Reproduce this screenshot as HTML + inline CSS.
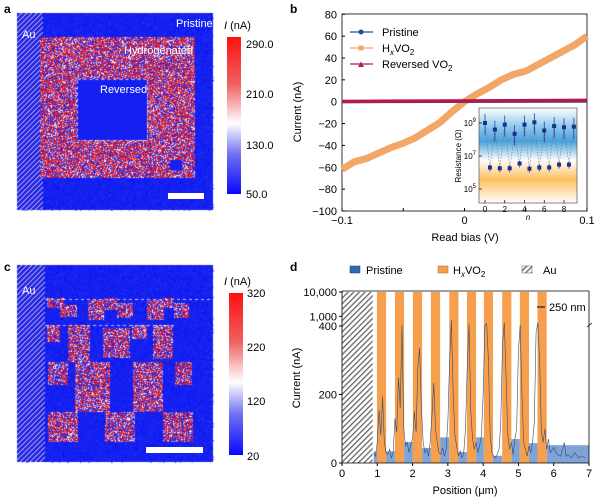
<!DOCTYPE html>
<html><head><meta charset="utf-8"><style>
html,body{margin:0;padding:0;background:#fff;width:600px;height:500px;overflow:hidden;font-family:"Liberation Sans",sans-serif;}
#root{position:relative;width:600px;height:500px;}
canvas{position:absolute;}
svg{position:absolute;left:0;top:0;}
</style></head><body><div id="root">
<canvas id="mapA" width="600" height="500" style="left:0;top:0"></canvas>
<svg id="sv" width="600" height="500">
<defs>
<linearGradient id="cb" x1="0" y1="0" x2="0" y2="1"><stop offset="0" stop-color="#ff1010"/><stop offset="0.3" stop-color="#f06060"/><stop offset="0.55" stop-color="#ffffff"/><stop offset="0.75" stop-color="#7070f0"/><stop offset="1" stop-color="#0808ff"/></linearGradient>
<linearGradient id="ins" x1="0" y1="0" x2="0" y2="1"><stop offset="0" stop-color="#fff"/><stop offset="0.2" stop-color="#8cc6ec"/><stop offset="0.35" stop-color="#4aa0dc"/><stop offset="0.55" stop-color="#ffffff"/><stop offset="0.75" stop-color="#fbc060"/><stop offset="1" stop-color="#fff"/></linearGradient>
<pattern id="hatD" width="4" height="4" patternUnits="userSpaceOnUse" patternTransform="rotate(45)"><rect width="4" height="4" fill="#fff"/><rect width="1.3" height="4" fill="#666"/></pattern>
</defs>
<g font-weight="bold" font-size="12">
<text x="4" y="13">a</text>
<text x="290" y="13">b</text>
<text x="4" y="271">c</text>
<text x="290" y="271">d</text>
</g>
<g fill="#fff" font-size="11">
<text x="22" y="38">Au</text>
<text x="176" y="27">Pristine</text>
<text x="124" y="54">Hydrogenated</text>
<text x="100" y="93">Reversed</text>
<text x="22" y="294">Au</text>
</g>
<rect x="168" y="193" width="36" height="6" fill="#fff"/>
<rect x="146" y="447" width="57" height="6" fill="#fff"/>
<g>
<text x="224" y="29" font-size="11"><tspan font-style="italic">I</tspan> (nA)</text>
<rect x="227" y="37" width="14" height="157" fill="url(#cb)"/>
<g font-size="11"><text x="246" y="48">290.0</text><text x="246" y="98">210.0</text><text x="246" y="149">130.0</text><text x="246" y="198">50.0</text></g>
</g>
<g>
<text x="224" y="285" font-size="11"><tspan font-style="italic">I</tspan> (nA)</text>
<rect x="229" y="293" width="14" height="162" fill="url(#cb)"/>
<g font-size="11"><text x="247" y="297">320</text><text x="247" y="351">220</text><text x="247" y="405">120</text><text x="247" y="460">20</text></g>
</g>
<g id="pb"></g>
<g id="pd"></g>
</svg>
</div>
<script>
// ---------- Panel b data ----------
const bX=[-0.1,-0.09,-0.08,-0.07,-0.06,-0.05,-0.04,-0.03,-0.02,-0.01,0,0.01,0.02,0.03,0.04,0.05,0.06,0.07,0.08,0.09,0.1];
const bHx=[-62,-55,-52,-47,-42,-38,-33,-26,-19,-9,0,7,13,20,25,28,34,40,46,52,60];
const bLineX=[-0.1,0.1];
const bPristine=[0,0.4];
const bReversed=[0.2,1.2];
const bYTicks=[80,60,40,20,0,-20,-40,-60,-80,-100];
const bXTicks=[-0.1,0,0.1];
const insHighN=[0,1,2,3,4,5,6,7,8,9];
const insHigh=[1e9,4e8,8e8,2.2e8,8e8,1.1e9,3.5e8,6.5e8,5.5e8,6e8];
const insLowN=[0.5,1.5,2.5,3.5,4.5,5.5,6.5,7.5,8.5];
const insLow=[2e6,1.8e6,1.8e6,3.5e6,1.7e6,2e6,2e6,3e6,3e6];
// ---------- Panel d data ----------
const dHxStarts=[0.99,1.5,2.01,2.52,3.04,3.54,4.02,4.54,5.04,5.54];
const dHxWidth=0.26;
const dPrisStart=[0.9,1.25,1.76,2.27,2.78,3.3,3.8,4.28,4.8,5.3,5.8];
const dPrisEnd=[1.0,1.5,2.01,2.52,3.04,3.54,4.02,4.54,5.04,5.54,7.0];
const dPrisH=[34,34,61,44,75,32,75,21,70,58,52];
const dPos=[0.9,0.95,1.0,1.05,1.1,1.15,1.2,1.25,1.3,1.35,1.4,1.45,1.5,1.55,1.6,1.65,1.7,1.75,1.8,1.85,1.9,1.95,2.0,2.05,2.1,2.15,2.2,2.25,2.3,2.35,2.4,2.45,2.5,2.55,2.6,2.65,2.7,2.75,2.8,2.85,2.9,2.95,3.0,3.05,3.1,3.15,3.2,3.25,3.3,3.35,3.4,3.45,3.5,3.55,3.6,3.65,3.7,3.75,3.8,3.85,3.9,3.95,4.0,4.05,4.1,4.15,4.2,4.25,4.3,4.35,4.4,4.45,4.5,4.55,4.6,4.65,4.7,4.75,4.8,4.85,4.9,4.95,5.0,5.05,5.1,5.15,5.2,5.25,5.3,5.35,5.4,5.45,5.5,5.55,5.6,5.65,5.7,5.75,5.8,5.85,5.9,6.0,6.1,6.2,6.3,6.35,6.4,6.5,6.6,6.7,6.8,6.9];
const dCur=[30,20,60,155,80,195,60,30,25,40,15,30,130,90,250,160,450,100,50,60,30,55,70,150,90,280,336,160,60,30,40,20,60,140,234,100,60,30,25,45,20,40,120,300,700,200,80,50,20,35,15,30,100,280,500,150,70,40,60,30,50,80,200,420,500,300,80,30,20,15,25,40,120,350,550,250,80,40,60,25,70,100,330,450,200,60,40,20,50,30,60,120,380,550,300,90,60,100,40,70,30,45,25,20,60,20,25,15,30,15,20,15];
const dYTicks=[0,200,400,1000,10000];
const dYTickLabels=["0","200","400","1,000","10,000"];
const dXTicks=[0,1,2,3,4,5,6,7];

const NS="http://www.w3.org/2000/svg";
function mk(parent,tag,attrs,text){const e=document.createElementNS(NS,tag);for(const k in attrs)e.setAttribute(k,attrs[k]);if(text!==undefined)e.textContent=text;parent.appendChild(e);return e;}

// ---------- Panel b ----------
const pb=document.getElementById('pb');
const bx=v=>342+(v+0.1)/0.2*245;
const by=v=>101.7-v*(211-101.7)/100;
let e;
e=mk(pb,'rect',{x:342,y:14,width:245,height:197,fill:'none',stroke:'#000','stroke-width':0.8});

bYTicks.forEach(t=>{mk(pb,'line',{x1:342,x2:345,y1:by(t),y2:by(t),stroke:'#000'});
 e=mk(pb,'text',{x:337,y:by(t)+4,'text-anchor':'end','font-size':11},t<0?'\u2212'+(-t):String(t));
 });
[-0.1,-0.05,0,0.05,0.1].forEach(t=>mk(pb,'line',{x1:bx(t),x2:bx(t),y1:211,y2:208,stroke:'#000'}));
bXTicks.forEach(t=>{e=mk(pb,'text',{x:bx(t),y:224,'text-anchor':'middle','font-size':11},t<0?'\u2212'+(-t):String(t));
 });
e=mk(pb,'text',{x:465,y:241,'text-anchor':'middle','font-size':11},'Read bias (V)');
e=mk(pb,'text',{x:0,y:0,'text-anchor':'middle','font-size':11,transform:'translate(301,112) rotate(-90)'},'Current (nA)');
e=mk(pb,'polyline',{points:bX.map((x,i)=>bx(x)+','+by(bHx[i])).join(' '),fill:'none',stroke:'#f2a768','stroke-width':7,'stroke-linejoin':'round'});

e=mk(pb,'polyline',{points:bLineX.map((x,i)=>bx(x)+','+by(bPristine[i])).join(' '),fill:'none',stroke:'#1c4f96','stroke-width':3});

e=mk(pb,'polyline',{points:bLineX.map((x,i)=>bx(x)+','+by(bReversed[i])).join(' '),fill:'none',stroke:'#b3184e','stroke-width':3.5});

const lg=mk(pb,'g',{});
mk(lg,'line',{x1:350,x2:373,y1:32,y2:32,stroke:'#1c4f96','stroke-width':1.2});mk(lg,'circle',{cx:361,cy:32,r:2.5,fill:'#1c4f96'});
mk(lg,'text',{x:382,y:36,'font-size':11},'Pristine');
mk(lg,'line',{x1:350,x2:373,y1:48,y2:48,stroke:'#f2a768','stroke-width':1.2});mk(lg,'rect',{x:358.5,y:45.5,width:5,height:5,fill:'#f2a768'});
mk(lg,'text',{x:382,y:52,'font-size':11}).innerHTML='H<tspan font-size="8" font-style="italic" dy="3">x</tspan><tspan dy="-3">VO</tspan><tspan font-size="8" dy="3">2</tspan>';
mk(lg,'line',{x1:350,x2:373,y1:64,y2:64,stroke:'#b3184e','stroke-width':1.2});mk(lg,'path',{d:'M358,67 L361,61.5 L364,67Z',fill:'#b3184e'});
mk(lg,'text',{x:382,y:68,'font-size':11}).innerHTML='Reversed VO<tspan font-size="8" dy="3">2</tspan>';
const ix=n=>485+n*(564-485)/8;
const iy=v=>189-(Math.log10(v)-5)*16.5;
const ig=mk(pb,'g',{});
mk(ig,'rect',{x:479,y:108,width:98,height:95,fill:'url(#ins)',stroke:'#555','stroke-width':0.7});
[5,7,9].forEach(p=>{mk(ig,'line',{x1:479,x2:482,y1:iy(Math.pow(10,p)),y2:iy(Math.pow(10,p)),stroke:'#000','stroke-width':0.7});
 mk(ig,'text',{x:476,y:iy(Math.pow(10,p))+3,'text-anchor':'end','font-size':8}).innerHTML='10<tspan font-size="6" dy="-4">'+p+'</tspan>';});
[0,2,4,6,8].forEach(n=>{mk(ig,'line',{x1:ix(n),x2:ix(n),y1:203,y2:200,stroke:'#000','stroke-width':0.7});mk(ig,'text',{x:ix(n),y:212,'text-anchor':'middle','font-size':8},String(n));});
mk(ig,'text',{x:528,y:220,'text-anchor':'middle','font-size':8,'font-style':'italic'},'n');
mk(ig,'text',{x:0,y:0,'text-anchor':'middle','font-size':8,transform:'translate(461,156) rotate(-90)'},'Resistance (\u03a9)');
let zz=[];insHighN.forEach((n,i)=>{zz.push([ix(n),iy(insHigh[i])]);if(i<insLow.length)zz.push([ix(insLowN[i]),iy(insLow[i])]);});
mk(ig,'polyline',{points:zz.map(p=>p.join(',')).join(' '),fill:'none',stroke:'#777','stroke-width':0.6,'stroke-dasharray':'1.5,1.5'});
insHighN.forEach((n,i)=>{const y=iy(insHigh[i]);mk(ig,'line',{x1:ix(n),x2:ix(n),y1:y-9,y2:y+12,stroke:'#1a2f90','stroke-width':0.7});
 e=mk(ig,'rect',{x:ix(n)-2,y:y-2,width:4,height:4,fill:'#1a2f90'});});
insLowN.forEach((n,i)=>{const y=iy(insLow[i]);mk(ig,'line',{x1:ix(n),x2:ix(n),y1:y-3,y2:y+4,stroke:'#1a2f90','stroke-width':0.7});
 e=mk(ig,'rect',{x:ix(n)-2,y:y-2,width:4,height:4,fill:'#1a2f90'});});

// ---------- Panel d ----------
const pd=document.getElementById('pd');
const dx=v=>342+v/7*247;
const dy=v=>v<=400?463-v*(463-326)/400:326-(Math.log10(v)-Math.log10(400))/(4-Math.log10(400))*34;
e=mk(pd,'rect',{x:dx(0),y:292,width:dx(0.87)-dx(0),height:171,fill:'url(#hatD)'});
dPrisStart.forEach((s,i)=>{e=mk(pd,'rect',{x:dx(s),y:dy(dPrisH[i]),width:dx(dPrisEnd[i])-dx(s),height:463-dy(dPrisH[i]),fill:'#7ea3d6'});
 });
dHxStarts.forEach(s=>{e=mk(pd,'rect',{x:dx(s),y:292,width:dx(s+dHxWidth)-dx(s),height:171,fill:'#f6a04e'});
 });
e=mk(pd,'polyline',{points:dPos.map((p,i)=>dx(p)+','+dy(dCur[i])).join(' '),fill:'none',stroke:'#3a4a6a','stroke-width':0.6});

mk(pd,'line',{x1:342,x2:589,y1:463,y2:463,stroke:'#000','stroke-width':0.8});
mk(pd,'line',{x1:342,x2:342,y1:291,y2:463,stroke:'#000','stroke-width':0.8});
mk(pd,'line',{x1:342,x2:589,y1:291,y2:291,stroke:'#000','stroke-width':0.8});
mk(pd,'line',{x1:589,x2:589,y1:291,y2:463,stroke:'#000','stroke-width':0.8});
dYTicks.forEach((t,i)=>{mk(pd,'line',{x1:339,x2:342,y1:dy(t),y2:dy(t),stroke:'#000'});
 e=mk(pd,'text',{x:337,y:dy(t)+4,'text-anchor':'end','font-size':11},dYTickLabels[i]);});
dXTicks.forEach(t=>{mk(pd,'line',{x1:dx(t),x2:dx(t),y1:463,y2:466,stroke:'#000'});
 e=mk(pd,'text',{x:dx(t),y:477,'text-anchor':'middle','font-size':11},String(t));});
e=mk(pd,'text',{x:465,y:494,'text-anchor':'middle','font-size':11},'Position (\u03bcm)');
e=mk(pd,'text',{x:0,y:0,'text-anchor':'middle','font-size':11,transform:'translate(300,378) rotate(-90)'},'Current (nA)');
mk(pd,'line',{x1:537,x2:545,y1:307,y2:307,stroke:'#000','stroke-width':1});
mk(pd,'text',{x:549,y:311,'font-size':11},'250 nm');
mk(pd,'line',{x1:587,x2:592,y1:327,y2:323,stroke:'#000','stroke-width':0.8});
const ld=mk(pd,'g',{});
mk(ld,'rect',{x:350,y:266,width:10,height:7,fill:'#2f6ab3',stroke:'#1a3a70','stroke-width':0.5});mk(ld,'text',{x:366,y:274,'font-size':11},'Pristine');
mk(ld,'rect',{x:438,y:266,width:10,height:7,fill:'#f6a04e',stroke:'#b06a20','stroke-width':0.5});
mk(ld,'text',{x:453,y:274,'font-size':11}).innerHTML='H<tspan font-size="8" font-style="italic" dy="3">x</tspan><tspan dy="-3">VO</tspan><tspan font-size="8" dy="3">2</tspan>';
mk(ld,'rect',{x:522,y:266,width:10,height:7,fill:'url(#hatD)',stroke:'#555','stroke-width':0.5});mk(ld,'text',{x:543,y:274,'font-size':11},'Au');

// ---------- Heatmap textures (a, c) ----------
const cv=document.getElementById('mapA');const ctx=cv.getContext('2d');
let seed=12345;function rnd(){seed=(seed*1103515245+12345)&0x7fffffff;return seed/0x7fffffff;}
function base(x,y,w,h){ctx.fillStyle='#1420f2';ctx.fillRect(x,y,w,h);
 for(let i=0;i<w*h/6;i++){ctx.fillStyle=rnd()<0.5?'#2a3cf0':'#0a10e0';ctx.fillRect(x+rnd()*w,y+rnd()*h,1,1);}}
function noise(x,y,w,h,pr){for(let yy=y;yy<y+h;yy+=1)for(let xx=x;xx<x+w;xx+=1){const r=rnd();
 ctx.fillStyle=r<pr?'#ee2020':(r<pr+0.15?'#f0e0f0':(r<pr+0.27?'#8a8af0':'#1a28f0'));ctx.fillRect(xx,yy,1,1);}}
function hatch(x,y,w,h){ctx.save();ctx.beginPath();ctx.rect(x,y,w,h);ctx.clip();ctx.fillStyle='#2525e0';ctx.fillRect(x,y,w,h);
 ctx.strokeStyle='#d8d8ff';ctx.lineWidth=1;for(let k=-h;k<w+h;k+=5){ctx.beginPath();ctx.moveTo(x+k,y+h);ctx.lineTo(x+k+h,y);ctx.stroke();}ctx.restore();}
base(17,13,196,197);hatch(17,13,26,197);
noise(40,37,155,141,0.45);
ctx.fillStyle='#1420f2';ctx.fillRect(77,79,70,61);ctx.fillRect(170,160,12,10);
ctx.strokeStyle='#fff';ctx.setLineDash([3,3]);ctx.lineWidth=0.7;ctx.strokeRect(77.5,79.5,70,61);ctx.setLineDash([]);
base(17,265,196,197);hatch(17,265,28,197);
const sq=[[47,298,18,10],[60,305,17,12],[88,300,16,20],[103,298,14,12],[117,303,16,15],[147,300,17,20],[163,298,11,10],[174,303,15,15],
[47,325,13,17],[68,325,22,37],[103,328,27,30],[132,325,15,14],[153,325,20,34],
[48,362,20,23],[75,362,35,50],[133,362,30,50],[175,362,17,23],
[48,412,30,30],[105,412,30,30],[163,412,30,30]];
sq.forEach(r=>noise(r[0],r[1],r[2],r[3],0.4));
ctx.strokeStyle='#fff';ctx.setLineDash([3,3]);ctx.lineWidth=0.7;ctx.beginPath();ctx.moveTo(45,299.5);ctx.lineTo(212,299.5);ctx.moveTo(45,325.5);ctx.lineTo(175,325.5);ctx.stroke();
</script></body></html>
